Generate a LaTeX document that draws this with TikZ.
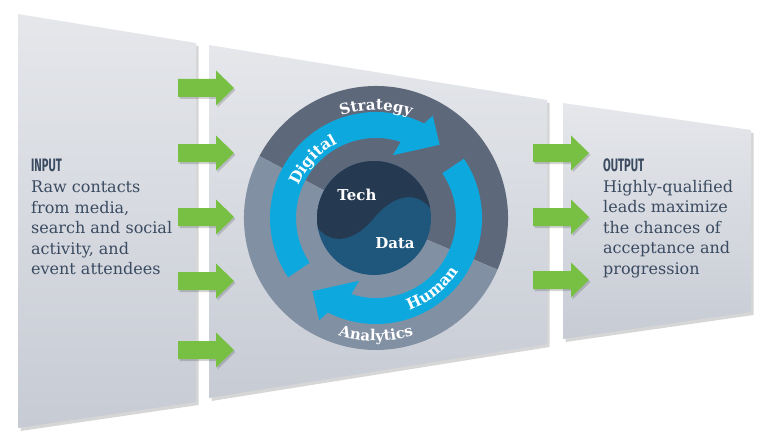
\documentclass[tikz,border=0pt]{standalone}
\usepackage{fontspec}
\usepackage{graphicx}
\setmainfont{DejaVu Serif}
\newfontfamily\headfont{Fira Sans}
\usetikzlibrary{calc,decorations.text}
\definecolor{panelT}{HTML}{E5E7EB}
\definecolor{panelB}{HTML}{C7CBD4}
\definecolor{txt}{HTML}{3A4A60}
\definecolor{greenA}{HTML}{78C043}
\definecolor{ringD}{HTML}{5E687B}
\definecolor{ringL}{HTML}{8190A3}
\definecolor{blueA}{HTML}{0DA9DE}
\definecolor{coreD}{HTML}{253950}
\definecolor{coreL}{HTML}{1F577C}
\tikzset{
 panel/.style={top color=panelT, bottom color=panelB, draw=none},
 pshadow/.style={fill=black, fill opacity=0.16, draw=none},
 garrow/.pic={
   \fill[black, opacity=0.16] (1.5,-11) -- (39.5,-11) -- (39.5,-19.5) -- (57.5,-2) -- (39.5,15.5) -- (39.5,7) -- (1.5,7) -- cycle;
   \fill[greenA] (0,-9) -- (38,-9) -- (38,-17.5) -- (56,0) -- (38,17.5) -- (38,9) -- (0,9) -- cycle;},
 bodytext/.style={anchor=north west, inner sep=0, align=left, text=txt, font=\fontsize{16}{20.5}\selectfont},
 headtext/.style={anchor=south west, inner sep=0, text=txt},
 ringtext/.style={decorate, decoration={text along path, text align=center, text color=white, text={#1}}},
 coretext/.style={text=white, font=\bfseries\fontsize{15}{15}\selectfont, inner sep=0}
}
\begin{document}
\begin{tikzpicture}[x=1pt,y=1pt]
\useasboundingbox (0,0) rectangle (770,440);
% panel shadows
\begin{scope}[shift={(2.5,-3)}]
 \fill[pshadow] (18,426) -- (196,397) -- (196,38) -- (18,12) -- cycle;
 \fill[pshadow] (209,395) -- (547,340) -- (547,96) -- (209,42) -- cycle;
 \fill[pshadow] (563,337) -- (751,310) -- (751,128) -- (563,101) -- cycle;
\end{scope}
% panels
\shade[panel] (18,426) -- (196,397) -- (196,38) -- (18,12) -- cycle;
\shade[panel] (209,395) -- (547,340) -- (547,96) -- (209,42) -- cycle;
\shade[panel] (563,337) -- (751,310) -- (751,128) -- (563,101) -- cycle;
% green arrows
\foreach \yy in {352,287,223,159,90} { \pic at (178,\yy) {garrow}; }
\foreach \yy in {287,223,160} { \pic at (533,\yy) {garrow}; }
% texts
\node[headtext] (inhead) at (31,268) {\scalebox{0.62}[1]{\headfont\bfseries\fontsize{18}{18}\selectfont INPUT}};
\node[bodytext] (inbody) at (31,259.2) {Raw contacts\\from media,\\search and social\\activity, and\\event attendees};
\node[headtext] (outhead) at (603,268) {\scalebox{0.62}[1]{\headfont\bfseries\fontsize{18}{18}\selectfont OUTPUT}};
\node[bodytext] (outbody) at (603,260.2) {Highly-qualified\\leads maximize\\the chances of\\acceptance and\\progression};
% circle
\coordinate (C) at (376,222);
\fill[ringD] (C) -- ($(C)+(-23:132)$) arc[start angle=-23,end angle=152,radius=132] -- cycle;
\fill[ringL] (C) -- ($(C)+(152:132)$) arc[start angle=152,end angle=337,radius=132] -- cycle;
% blue arrows
\fill[blueA] ($(C)+(214:106)$) arc[start angle=214,end angle=63,radius=106]
  -- ($(C)+(61:117)$) -- ($(C)+(49:97)$) -- ($(C)+(75:65)$) -- ($(C)+(72:80)$)
  arc[start angle=72,end angle=214,radius=80] -- cycle;
\fill[blueA] ($(C)+(34:106)$) arc[start angle=34,end angle=-117,radius=106]
  -- ($(C)+(241:117)$) -- ($(C)+(229:97)$) -- ($(C)+(255:65)$) -- ($(C)+(252:80)$)
  arc[start angle=252,end angle=394,radius=80] -- cycle;
% core
\coordinate (K) at (374,222);
\fill[coreL] (K) circle[radius=57];
\fill[coreD] ($(K)+(190:57)$) .. controls ($(K)+(-40,-30)$) and ($(K)+(-16,-20)$) .. (K)
  .. controls ($(K)+(16,20)$) and ($(K)+(40,30)$) .. ($(K)+(10:57)$)
  arc[start angle=10,end angle=190,radius=57] -- cycle;
\node[coretext] (tech) at (357,245) {Tech};
\node[coretext] (data) at (395,197) {Data};
% ring texts
\path[ringtext={|\bfseries\fontsize{15}{15}\selectfont|Strategy}] ($(C)+(150:108)$) arc[start angle=150,end angle=30,radius=108];
\path[ringtext={|\bfseries\fontsize{15}{15}\selectfont|Analytics}] ($(C)+(215:123)$) arc[start angle=215,end angle=325,radius=123];
\path[ringtext={|\bfseries\fontsize{15.5}{15.5}\selectfont|Digital}] ($(C)+(175:84)$) arc[start angle=175,end angle=100,radius=84];
\path[ringtext={|\bfseries\fontsize{15.5}{15.5}\selectfont|Human}] ($(C)+(-95:98)$) arc[start angle=-95,end angle=-8,radius=98];
\end{tikzpicture}
\end{document}
